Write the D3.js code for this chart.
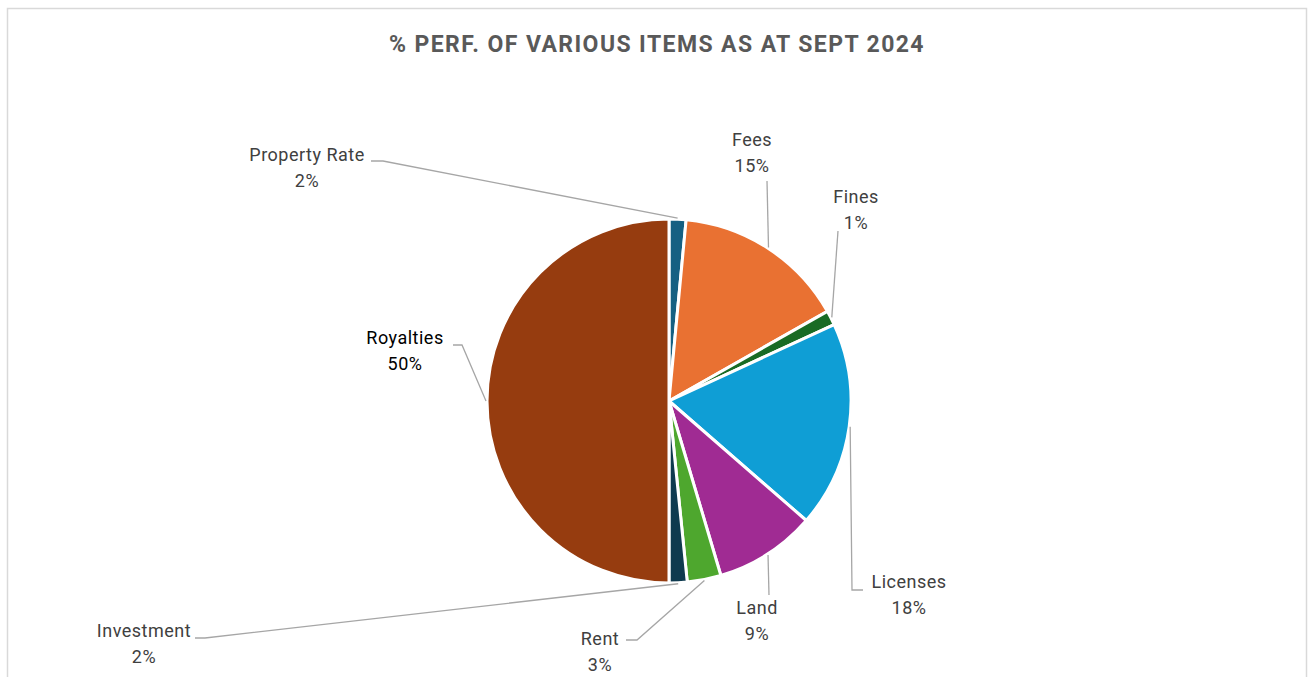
<!DOCTYPE html>
<html><head><meta charset="utf-8">
<script src="https://cdn.jsdelivr.net/npm/d3@7"></script>
<style>
html,body{margin:0;padding:0;background:#fff;}
svg{display:block;}
text{font-family:Roboto,"Liberation Sans",Arial,sans-serif;}
</style></head>
<body>
<svg id="chart" width="1310" height="677"></svg>
<script>
const categories = ["Property Rate","Fees","Fines","Licenses","Land","Rent","Investment","Royalties"];
const values = [1.5,15.3,1.3,18.3,9.0,3.0,1.6,50.0];
const colors = ["#156082","#E97132","#196B24","#0F9ED5","#A02B93","#4EA72E","#0E3A4F","#963C0F"];
const title = "% PERF. OF VARIOUS ITEMS AS AT SEPT 2024";

// label layout (text centre of first line, elbow and end of leader)
const labelLayout = [
  {x:307, y:156, pts:[[383,161],[371,161]]},
  {x:752, y:141, pts:[[767,181]]},
  {x:856, y:198, pts:[[838,231]]},
  {x:909, y:583, pts:[[852,590],[863,590]]},
  {x:757, y:609, pts:[[769,595]]},
  {x:600, y:640, pts:[[637,640],[626,640]]},
  {x:144, y:632, pts:[[205,638],[195,638]]},
  {x:405, y:339, pts:[[462,345],[453,345]]}
];

const svg = d3.select("#chart");
svg.append("rect").attr("x",7.5).attr("y",8.5).attr("width",1299).attr("height",700)
  .attr("fill","#fff").attr("stroke","#d9d9d9").attr("stroke-width",1.5);

svg.append("text").attr("x",657).attr("y",46).attr("text-anchor","middle")
  .attr("dominant-baseline","middle").attr("font-size",23).attr("font-weight","bold")
  .attr("letter-spacing",1.4).attr("fill","#595959").text(title);

const cx = 669, cy = 401, r = 182;
const data = categories.map((c,i)=>({name:c, value:values[i], color:colors[i], lay:labelLayout[i]}));
const pie = d3.pie().value(d=>d.value).sort(null);
const arcs = pie(data);
const arc = d3.arc().innerRadius(0).outerRadius(r);
const g = svg.append("g").attr("transform",`translate(${cx},${cy})`);
g.selectAll("path.slice").data(arcs).join("path").attr("class","slice")
  .attr("d",arc).attr("fill",d=>d.data.color).attr("stroke","#fff").attr("stroke-width",3).attr("stroke-linejoin","round");

const fmt = d3.format(".0f");
arcs.forEach(a=>{
  const mid = (a.startAngle+a.endAngle)/2;
  const sx = cx + Math.sin(mid)*(r+1), sy = cy - Math.cos(mid)*(r+1);
  const pts = [[sx,sy]].concat(a.data.lay.pts);
  svg.append("path").attr("d",d3.line()(pts)).attr("fill","none")
    .attr("stroke","#a6a6a6").attr("stroke-width",1.3);
  const L = a.data.lay;
  const t = svg.append("text").attr("text-anchor","middle").attr("font-size",18)
    .attr("letter-spacing",0.5)
    .attr("fill", a.data.name==="Royalties" ? "#000" : "#404040");
  t.append("tspan").attr("x",L.x).attr("y",L.y).attr("dominant-baseline","middle").text(a.data.name);
  t.append("tspan").attr("x",L.x).attr("y",L.y+26).attr("dominant-baseline","middle").text(fmt(a.data.value)+"%");
});
</script>
</body></html>
